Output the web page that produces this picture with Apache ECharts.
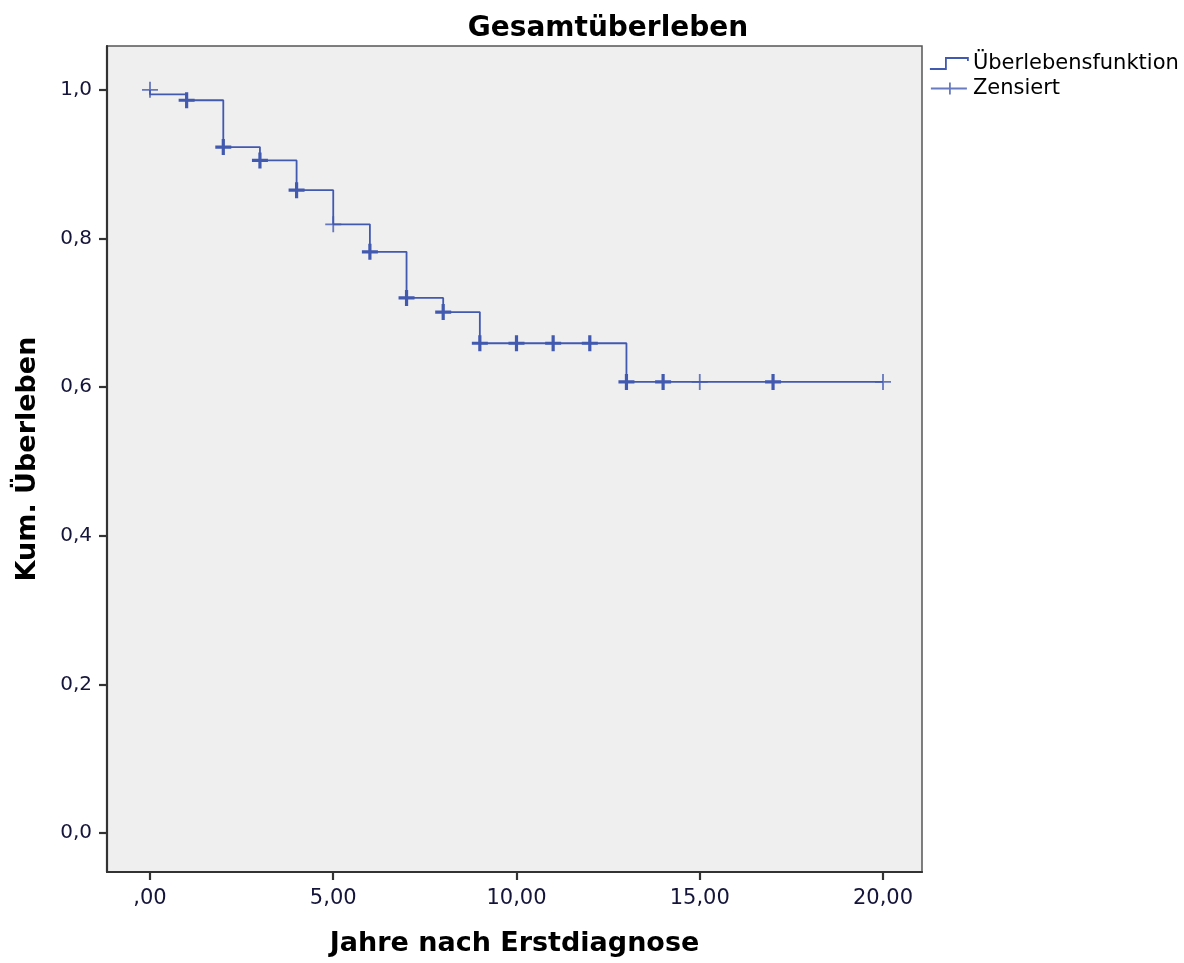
<!DOCTYPE html>
<html>
<head>
<meta charset="utf-8">
<script src="https://cdn.jsdelivr.net/npm/echarts@6/dist/echarts.min.js"></script>
<style>
  html, body { margin: 0; padding: 0; background: #ffffff; }
  #chart { width: 1184px; height: 963px; }
</style>
</head>
<body>
<div id="chart"></div>
<script>
// Survival step function (time in years, cumulative survival after that time)
const stepTimes  = [0, 0, 1, 2, 3, 4, 5, 6, 7, 8, 9, 13, 20];
const stepValues = [1.0, 0.994, 0.986, 0.923, 0.905, 0.865, 0.819, 0.782, 0.720, 0.701, 0.659, 0.607, 0.607];

// Censored observations
const censorTimes  = [0, 1, 2, 3, 4, 5, 6, 7, 8, 9, 10, 11, 12, 13, 14, 15, 17, 20];
const censorValues = [1.0, 0.986, 0.923, 0.905, 0.865, 0.819, 0.782, 0.720, 0.701, 0.659, 0.659, 0.659, 0.659, 0.607, 0.607, 0.607, 0.607, 0.607];
const censorCounts = [1, 2, 2, 2, 2, 1, 2, 2, 2, 2, 2, 2, 2, 2, 2, 1, 2, 1];

// Axis ticks
const xTicks = [0, 5, 10, 15, 20];
const yTicks = [0, 0.2, 0.4, 0.6, 0.8, 1.0];

const titleText = 'Gesamtüberleben';
const xName = 'Jahre nach Erstdiagnose';
const yName = 'Kum. Überleben';
const seriesNames = ['Überlebensfunktion', 'Zensiert'];

const BLUE = '#4259b0';
const LABEL_COLOR = '#15153a';
const FONT = 'DejaVu Sans';

const chart = echarts.init(document.getElementById('chart'), null, { renderer: 'canvas' });

const stepData = stepTimes.map((t, i) => [t, stepValues[i]]);
const censorData = censorTimes.map((t, i) => ({
  value: [t, censorValues[i]],
  itemStyle: { borderWidth: censorCounts[i] > 1 ? 3.2 : 1.8, opacity: censorCounts[i] > 1 ? 1 : 0.8 }
}));

const option = {
  animation: false,
  backgroundColor: '#ffffff',
  textStyle: { fontFamily: FONT },
  title: {
    text: titleText,
    left: 603,
    top: 10,
    textAlign: 'center',
    textStyle: { fontFamily: FONT, fontWeight: 'bold', fontSize: 28, color: '#000000' }
  },
  legend: {
    orient: 'vertical',
    left: 929,
    top: 53,
    padding: 0,
    itemWidth: 38,
    itemHeight: 12,
    itemGap: 4,
    textStyle: { fontFamily: FONT, fontSize: 21, color: '#000000' },
    data: [
      {
        name: seriesNames[0],
        icon: 'path://M0,12 L16,12 L16,1 L38,1 L38,4',
        itemStyle: { color: 'rgba(0,0,0,0)', borderColor: BLUE, borderWidth: 1.8 }
      },
      {
        name: seriesNames[1],
        icon: 'path://M0,6 L36,6 M19,0 L19,12',
        itemStyle: { color: 'rgba(0,0,0,0)', borderColor: BLUE, borderWidth: 1.8 }
      }
    ]
  },
  grid: {
    left: 107,
    right: 262,
    top: 46,
    bottom: 91,
    show: true,
    backgroundColor: '#efefef',
    borderColor: '#555555',
    borderWidth: 1.5
  },
  xAxis: {
    type: 'value',
    min: -1.173,
    max: 21.064,
    name: xName,
    nameLocation: 'middle',
    nameGap: 58,
    nameTextStyle: { fontFamily: FONT, fontWeight: 'bold', fontSize: 27, color: '#000000' },
    axisLine: { show: true, onZero: false, lineStyle: { color: '#333333', width: 2.2 } },
    axisTick: { show: true, customValues: xTicks, length: 8, inside: false, lineStyle: { color: '#333333', width: 2.2 } },
    axisLabel: {
      customValues: xTicks,
      margin: 16,
      fontFamily: FONT,
      fontSize: 21,
      color: LABEL_COLOR,
      formatter: v => (v === 0 ? ',00' : v.toFixed(2).replace('.', ','))
    },
    splitLine: { show: false }
  },
  yAxis: {
    type: 'value',
    min: -0.0525,
    max: 1.059,
    name: yName,
    nameLocation: 'middle',
    nameGap: 66,
    nameRotate: 90,
    nameTextStyle: { fontFamily: FONT, fontWeight: 'bold', fontSize: 27, color: '#000000' },
    axisLine: { show: true, onZero: false, lineStyle: { color: '#333333', width: 2.2 } },
    axisTick: { show: true, customValues: yTicks, length: 8, inside: false, lineStyle: { color: '#333333', width: 2.2 } },
    axisLabel: {
      customValues: yTicks,
      margin: 15,
      fontFamily: FONT,
      fontSize: 20,
      color: LABEL_COLOR,
      formatter: v => v.toFixed(1).replace('.', ',')
    },
    splitLine: { show: false }
  },
  series: [
    {
      name: seriesNames[0],
      type: 'line',
      step: 'end',
      data: stepData,
      showSymbol: false,
      symbol: 'none',
      color: BLUE,
      lineStyle: { color: BLUE, width: 1.8 },
      z: 2
    },
    {
      name: seriesNames[1],
      type: 'scatter',
      data: censorData,
      symbol: 'path://M6,0 L6,12 M0,6 L12,6',
      symbolSize: 16,
      symbolKeepAspect: true,
      color: BLUE,
      itemStyle: { color: 'rgba(0,0,0,0)', borderColor: BLUE },
      z: 3
    }
  ]
};

chart.setOption(option);
</script>
</body>
</html>
